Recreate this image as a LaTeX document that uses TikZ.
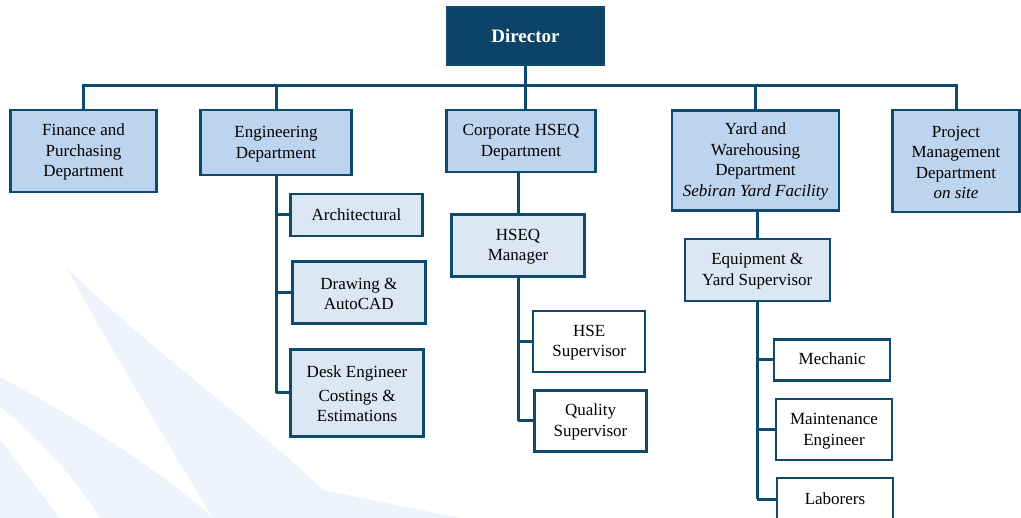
\documentclass[tikz,border=0pt]{standalone}
\usepackage{fontspec}
\setmainfont{Liberation Serif}

\definecolor{navy}{HTML}{0B4468}
\definecolor{linkblue}{HTML}{0E4A6D}
\definecolor{deptfill}{HTML}{BDD4EE}
\definecolor{unitfill}{HTML}{DCE7F6}
\definecolor{wmark}{HTML}{EDF2FB}

% strut for the first line of a box
\newcommand{\lift}{\rule[-3.7pt]{0pt}{17.5pt}}

\tikzset{
  box/.style={draw=linkblue, line width=2.5pt, align=center, inner sep=0pt,
    font=\fontsize{17}{20.5}\selectfont},
  dept/.style={box, fill=deptfill},
  unit/.style={box, fill=unitfill},
  staff/.style={box, fill=white},
  link/.style={draw=linkblue, line width=3pt},
}

\begin{document}
\begin{tikzpicture}[x=1pt,y=-1pt]
\useasboundingbox (0,0) rectangle (1021,518);
% faint watermark
\fill[wmark] (67,268) .. controls (150,350) and (250,420) .. (323,490) -- (460,518) -- (213,518)
  .. controls (160,430) and (100,330) .. (67,268) -- cycle;
\fill[wmark] (0,377) .. controls (80,420) and (160,470) .. (213,518) -- (100,518)
  .. controls (70,470) and (30,430) .. (0,407) -- cycle;
\fill[wmark] (0,440) -- (60,518) -- (0,518) -- cycle;

% top
\node[box, fill=navy, text=white, font=\fontsize{19}{22}\selectfont\bfseries,
  minimum width=157pt, minimum height=58pt] (dir) at (525.5,36) {Director};
\coordinate (bus) at (0,86);

% departments
\node[dept, minimum width=146pt, minimum height=82pt] (fin) at (83.5,151) {\lift Finance and\\Purchasing\\Department};
\node[dept, minimum width=151pt, minimum height=65pt] (eng) at (276,142.7) {\lift Engineering\\Department};
\node[dept, minimum width=149pt, minimum height=62pt] (corp) at (521,141) {\lift Corporate HSEQ\\Department};
\node[dept, minimum width=167pt, minimum height=100pt] (yard) at (755.5,160.3)
  {\lift Yard and\\Warehousing\\Department\\\textit{Sebiran Yard Facility}};
\node[dept, minimum width=127pt, minimum height=102pt] (proj) at (956,161)
  {\lift Project\\Management\\Department\\\textit{on site}};

% engineering units
\node[unit, minimum width=132pt, minimum height=42pt] (arch) at (356.5,215) {\lift Architectural};
\node[unit, minimum width=133pt, minimum height=62pt] (cad) at (358.8,292.5) {\lift Drawing \&\\AutoCAD};
\node[unit, minimum width=133pt, minimum height=87pt] (desk) at (357,393) {\lift Desk Engineer\\[3pt]Costings \&\\Estimations};

% hseq
\node[unit, minimum width=133pt, minimum height=62pt] (mgr) at (518,245.6) {\lift HSEQ\\Manager};
\node[staff, minimum width=112pt, minimum height=61pt] (hse) at (589.2,341.3) {\lift HSE\\Supervisor};
\node[staff, minimum width=112pt, minimum height=61pt] (qual) at (590.5,421) {\lift Quality\\Supervisor};

% yard
\node[unit, minimum width=145pt, minimum height=62pt] (equip) at (757.3,270) {\lift Equipment \&\\Yard Supervisor};
\node[staff, minimum width=116pt, minimum height=41pt] (mech) at (832.2,359.8) {\lift Mechanic};
\node[staff, minimum width=116pt, minimum height=61pt] (maint) at (834,429.7) {\lift Maintenance\\Engineer};
\node[staff, minimum width=116pt, minimum height=43pt] (lab) at (835,499.3) {\lift Laborers};

% connectors
\draw[link] (dir.south) -- (dir.south |- bus);
\draw[link] (fin.north) -- (fin.north |- bus) -- (proj.north |- bus) -- (proj.north);
\foreach \d in {eng,yard}
  \draw[link] (\d.north |- bus) -- (\d.north);
\draw[link] (dir.south |- bus) -- (dir.south |- corp.north);

\draw[link] (eng.south) -- (eng.south |- desk.west);
\foreach \c in {arch,cad,desk}
  \draw[link] (eng.south |- \c.west) -- (\c.west);

\draw[link] (mgr.north |- corp.south) -- (mgr.north);
\draw[link] (mgr.south) -- (mgr.south |- qual.west);
\foreach \c in {hse,qual}
  \draw[link] (mgr.south |- \c.west) -- (\c.west);

\draw[link] (equip.north |- yard.south) -- (equip.north);
\draw[link] (equip.south) -- (equip.south |- lab.west);
\foreach \c in {mech,maint,lab}
  \draw[link] (equip.south |- \c.west) -- (\c.west);
\end{tikzpicture}
\end{document}
